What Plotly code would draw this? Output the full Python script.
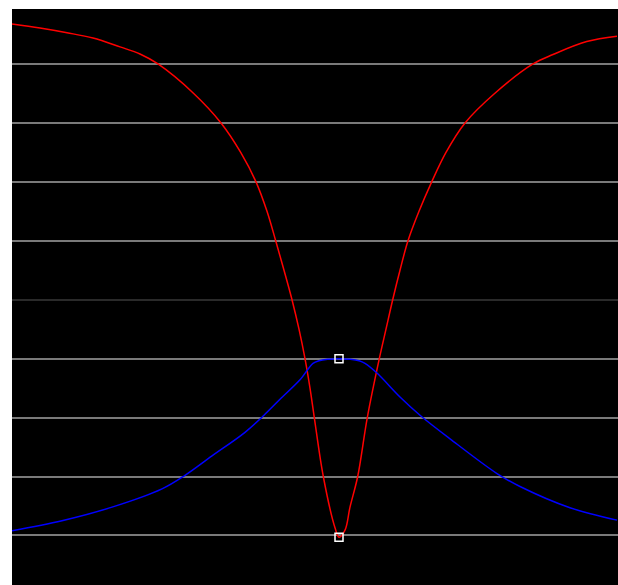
import plotly.graph_objects as go

# frequency offset from the centre (arbitrary units) and level (dB)
red_x = [-3.27, -2.99, -2.72, -2.46, -2.19, -1.99, -1.81, -1.453, -1.18, -0.983,
         -0.83, -0.72, -0.633, -0.55, -0.47, -0.40, -0.34, -0.29, -0.247, -0.157,
         -0.04, 0.00, 0.06, 0.11, 0.187, 0.283, 0.403, 0.47, 0.537, 0.61, 0.69,
         0.80, 0.927, 1.07, 1.26, 1.556, 1.94, 2.14, 2.477, 2.78]
red_y = [46.8, 46.1, 45.3, 44.4, 42.9, 41.7, 40.0, 35.0, 30.0, 25.0,
         20.0, 15.0, 10.0, 5.0, 0.0, -5.0, -10.0, -15.0, -20.0, -30.0,
         -38.7, -40.3, -39.1, -35.2, -30.0, -20.0, -10.0, -5.0, 0.0, 5.0, 10.0,
         15.0, 20.0, 25.0, 30.0, 35.0, 40.0, 41.6, 43.8, 44.7]

blue_x = [-3.27, -2.77, -2.27, -1.77, -1.54, -1.27, -0.94, -0.75, -0.59, -0.39,
          -0.26, -0.20, -0.10, 0.00, 0.10, 0.20, 0.26, 0.377, 0.61, 0.81,
          1.11, 1.58, 1.81, 2.31, 2.78]
blue_y = [-39.2, -37.5, -35.2, -32.1, -29.8, -26.5, -22.5, -19.6, -16.9, -13.6,
          -10.8, -10.35, -10.1, -10.0, -10.1, -10.35, -10.8, -12.4, -16.5, -19.6,
          -23.6, -29.5, -31.7, -35.3, -37.4]

marker_x = [0.0, 0.0]
marker_y = [-10.0, -40.3]

fig = go.Figure()
fig.add_trace(go.Scatter(x=red_x, y=red_y, mode="lines",
                         line=dict(color="#ff0000", width=1.5, shape="spline", smoothing=1.0),
                         showlegend=False, hoverinfo="skip"))
fig.add_trace(go.Scatter(x=blue_x, y=blue_y, mode="lines",
                         line=dict(color="#0000ff", width=1.5, shape="spline", smoothing=1.0),
                         showlegend=False, hoverinfo="skip"))
fig.add_trace(go.Scatter(x=marker_x, y=marker_y, mode="markers",
                         marker=dict(symbol="square-open", size=8, color="white",
                                     line=dict(width=1.5, color="white")),
                         showlegend=False, hoverinfo="skip"))

fig.update_layout(
    width=618, height=585,
    margin=dict(l=12, r=0, t=9, b=0),
    paper_bgcolor="white", plot_bgcolor="black",
    hovermode=False,
    xaxis=dict(range=[-3.27, 2.79], showgrid=False, zeroline=False,
               showticklabels=False, ticks="", showline=False),
    yaxis=dict(range=[-48.41, 49.33], dtick=10, tick0=0, showgrid=True,
               gridcolor="#7a7a7a", gridwidth=1.5, zeroline=True,
               zerolinecolor="#2a2a2a", zerolinewidth=1.5,
               showticklabels=False, ticks="", showline=False),
)

# remove the browser's default page margin so the figure fills the window
fig.write_html("out.html",
               config={"displayModeBar": False},
               post_script="document.body.style.margin='0';document.body.style.overflow='hidden';")
